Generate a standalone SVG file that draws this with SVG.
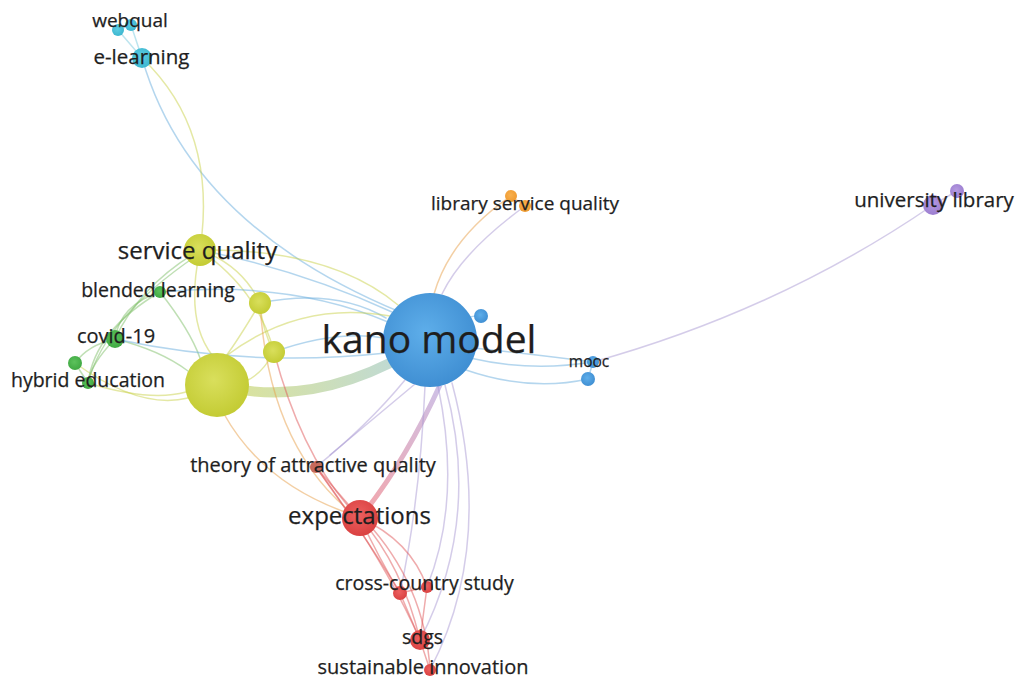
<svg xmlns="http://www.w3.org/2000/svg" width="1020" height="680" viewBox="0 0 1020 680">
  <style>
    .lbl { font-family: "Open Sans", "Liberation Sans", sans-serif; fill: #1e1e1e; stroke: #1e1e1e; stroke-width: 0.25; text-anchor: middle; }
    .s { font-size: 19.5px; }
    .m { font-size: 24px; }
    .e { fill: none; stroke-linecap: round; stroke-opacity: 0.5; stroke-width: 1.5; }
    .eb { stroke: #6aaede; }
    .ey { stroke: #c9d24a; }
    .eg { stroke: #7fbf6a; }
    .er { stroke: #e0585a; }
    .eo { stroke: #e8a04a; }
    .ev { stroke: #a99ad4; }
    .ec { stroke: #7ccbe0; }
    .n-blue { fill: url(#gBlue); }
    .n-yel { fill: url(#gYel); }
    .n-grn { fill: url(#gGrn); }
    .n-cyan { fill: url(#gCyan); }
    .n-org { fill: url(#gOrg); }
    .n-pur { fill: url(#gPur); }
    .n-red { fill: url(#gRed); }
    .n-brn { fill: #c66a5c; }
  </style>
  <defs>
    <radialGradient id="gBlue" cx="0.45" cy="0.42" r="0.6">
      <stop offset="0" stop-color="#5eaeea"/>
      <stop offset="1" stop-color="#3f8ed2"/>
    </radialGradient>
    <radialGradient id="gYel" cx="0.45" cy="0.42" r="0.6">
      <stop offset="0" stop-color="#d9df5c"/>
      <stop offset="1" stop-color="#c3cb33"/>
    </radialGradient>
    <radialGradient id="gGrn" cx="0.45" cy="0.42" r="0.6">
      <stop offset="0" stop-color="#5cc25c"/>
      <stop offset="1" stop-color="#3fa842"/>
    </radialGradient>
    <radialGradient id="gCyan" cx="0.45" cy="0.42" r="0.6">
      <stop offset="0" stop-color="#5dcde2"/>
      <stop offset="1" stop-color="#3cb6cf"/>
    </radialGradient>
    <radialGradient id="gOrg" cx="0.45" cy="0.42" r="0.6">
      <stop offset="0" stop-color="#f8b04e"/>
      <stop offset="1" stop-color="#ef9a30"/>
    </radialGradient>
    <radialGradient id="gPur" cx="0.45" cy="0.42" r="0.6">
      <stop offset="0" stop-color="#b59ae0"/>
      <stop offset="1" stop-color="#9b7dd0"/>
    </radialGradient>
    <radialGradient id="gRed" cx="0.45" cy="0.42" r="0.6">
      <stop offset="0" stop-color="#ec6060"/>
      <stop offset="1" stop-color="#d94040"/>
    </radialGradient>
    <linearGradient id="gThick" x1="217" y1="385" x2="430" y2="340" gradientUnits="userSpaceOnUse">
      <stop offset="0" stop-color="#cfd86a"/>
      <stop offset="1" stop-color="#9cc8d4"/>
    </linearGradient>
    <linearGradient id="gThick2" x1="360" y1="518" x2="440" y2="385" gradientUnits="userSpaceOnUse">
      <stop offset="0" stop-color="#ef7f86"/>
      <stop offset="1" stop-color="#b9a6dc"/>
    </linearGradient>
  </defs>

  <rect width="1020" height="680" fill="#ffffff"/>

  <!-- links between terms -->
  <g id="edges">
    <!-- strongest links -->
    <path d="M217,385 Q320,412 430,340" fill="none" stroke="url(#gThick)" stroke-width="10" stroke-opacity="0.7"/>
    <path d="M360,518 Q405,462 440,385" fill="none" stroke="url(#gThick2)" stroke-width="5" stroke-opacity="0.7"/>

    <!-- top cluster -->
    <path class="e ec" d="M118,30 L142,58"/>
    <path class="e ec" d="M131,25 L142,58"/>
    <path class="e ec" d="M118,30 L131,25"/>
    <path class="e eb" d="M142,58 Q190,225 400,312"/>
    <path class="e ey" d="M142,58 Q218,130 200,250"/>

    <!-- service quality cluster -->
    <path class="e ey" d="M200,250 Q330,248 398,305"/>
    <path class="e ey" d="M200,250 Q185,320 212,355"/>
    <path class="e ey" d="M200,250 Q242,265 260,303"/>
    <path class="e ey" d="M200,250 Q258,290 274,352"/>
    <path class="e ey" d="M260,303 Q262,330 274,352"/>
    <path class="e ey" d="M260,303 Q238,340 226,356"/>
    <path class="e ey" d="M274,352 Q262,374 246,381"/>
    <path class="e eg" d="M200,250 Q140,285 115,339"/>
    <path class="e eg" d="M196,256 Q105,318 88,383"/>
    <path class="e eg" d="M160,292 Q190,330 200,358"/>
    <path class="e eg" d="M115,339 Q160,350 188,371"/>
    <path class="e ey" d="M88,383 Q150,402 186,392"/>
    <path class="e ey" d="M75,363 Q140,410 188,398"/>
    <path class="e eg" d="M160,292 Q120,305 115,339"/>
    <path class="e eg" d="M115,339 Q88,345 75,363"/>
    <path class="e eg" d="M75,363 L88,383"/>
    <path class="e eg" d="M160,292 Q95,330 88,383"/>
    <path class="e eg" d="M115,339 Q90,365 88,383"/>

    <!-- links into kano model from the left -->
    <path class="e eb" d="M160,292 Q290,280 388,322"/>
    <path class="e eb" d="M115,339 Q250,368 386,353"/>
    <path class="e eb" d="M260,303 Q335,288 386,318"/>
    <path class="e eb" d="M274,352 Q335,330 384,338"/>
    <path class="e ey" d="M226,356 Q300,300 390,316"/>
    <path class="e eb" d="M200,250 Q300,270 392,312"/>

    <!-- library service quality -->
    <path class="e eo" d="M511,196 Q450,238 434,294"/>
    <path class="e ev" d="M525,206 Q462,252 442,294"/>
    <path class="e eo" d="M511,196 L525,206"/>

    <!-- mooc and university library -->
    <path class="e eb" d="M470,358 Q530,372 593,362"/>
    <path class="e eb" d="M466,370 Q530,392 588,379"/>
    <path class="e eb" d="M474,348 Q540,355 593,362"/>
    <path class="e eb" d="M593,362 L588,379"/>
    <path class="e ev" d="M593,362 Q780,310 933,205"/>
    <path class="e ev" d="M933,205 L957,191"/>
    <path class="e eb" d="M455,322 Q470,315 481,316"/>

    <!-- downward links from kano model -->
    <path class="e ev" d="M445,385 Q482,520 420,640"/>
    <path class="e ev" d="M452,383 Q495,545 430,670"/>
    <path class="e ev" d="M438,386 Q462,500 427,587"/>
    <path class="e ev" d="M425,386 Q420,500 400,593"/>
    <path class="e ev" d="M405,380 Q368,425 316,467"/>
    <path class="e ev" d="M415,384 Q360,430 330,455"/>

    <!-- expectations cluster -->
    <path class="e eo" d="M224,414 Q262,482 345,512"/>
    <path class="e er" d="M274,352 Q300,450 348,506"/>
    <path class="e eo" d="M260,303 Q268,440 346,508"/>
    <path class="e er" d="M316,467 L360,518"/>
    <path class="e er" d="M316,467 Q368,540 400,593"/>
    <path class="e er" d="M360,518 Q380,560 400,593"/>
    <path class="e er" d="M360,518 Q410,540 427,587"/>
    <path class="e er" d="M360,518 Q402,565 420,640"/>
    <path class="e er" d="M365,520 Q425,585 430,670"/>
    <path class="e er" d="M400,593 L420,640"/>
    <path class="e er" d="M427,587 L420,640"/>
    <path class="e er" d="M400,593 L427,587"/>
    <path class="e er" d="M420,640 L430,670"/>
    <path class="e er" d="M316,467 Q385,560 420,640"/>
  </g>

  <!-- terms -->
  <g id="node-kano-model">
    <circle class="n-blue" cx="430" cy="340" r="47"/>
    <text class="lbl" x="429" y="353" style="font-size:39px">kano model</text>
  </g>
  <g id="node-kano-small">
    <circle class="n-blue" cx="481" cy="316" r="7"/>
  </g>
  <g id="node-big-yellow">
    <circle class="n-yel" cx="217" cy="385" r="32"/>
  </g>
  <g id="node-yellow-a">
    <circle class="n-yel" cx="260" cy="303" r="11"/>
  </g>
  <g id="node-yellow-b">
    <circle class="n-yel" cx="274" cy="352" r="11"/>
  </g>
  <g id="node-service-quality">
    <circle class="n-yel" cx="200" cy="250" r="16"/>
    <text class="lbl m" x="197.5" y="259">service quality</text>
  </g>
  <g id="node-blended-learning">
    <circle class="n-grn" cx="160" cy="292" r="6"/>
    <text class="lbl s" x="158" y="297">blended learning</text>
  </g>
  <g id="node-covid-19">
    <circle class="n-grn" cx="115" cy="339" r="9"/>
    <text class="lbl" x="116" y="343" style="font-size:20px">covid-19</text>
  </g>
  <g id="node-hybrid-education">
    <circle class="n-grn" cx="75" cy="363" r="7"/>
    <circle class="n-grn" cx="88" cy="383" r="6"/>
    <text class="lbl s" x="88" y="387">hybrid education</text>
  </g>
  <g id="node-webqual">
    <circle class="n-cyan" cx="118" cy="30" r="6"/>
    <circle class="n-cyan" cx="131" cy="25" r="6"/>
    <text class="lbl" x="130" y="27" style="font-size:19px">webqual</text>
  </g>
  <g id="node-e-learning">
    <circle class="n-cyan" cx="142" cy="58" r="10"/>
    <text class="lbl" x="141.5" y="64" style="font-size:20.5px">e-learning</text>
  </g>
  <g id="node-library-service-quality">
    <circle class="n-org" cx="511" cy="196" r="6"/>
    <circle class="n-org" cx="525" cy="206" r="6"/>
    <text class="lbl" x="525" y="210" style="font-size:19px">library service quality</text>
  </g>
  <g id="node-university-library">
    <circle class="n-pur" cx="957" cy="191" r="7"/>
    <circle class="n-pur" cx="933" cy="205" r="10"/>
    <text class="lbl" x="934" y="207" style="font-size:20.5px">university library</text>
  </g>
  <g id="node-mooc">
    <circle class="n-blue" cx="593" cy="362" r="6"/>
    <circle class="n-blue" cx="588" cy="379" r="7"/>
    <text class="lbl" x="589" y="367" style="font-size:15.5px">mooc</text>
  </g>
  <g id="node-theory-of-attractive-quality">
    <circle class="n-brn" cx="316" cy="467" r="6"/>
    <text class="lbl" x="313" y="472" style="font-size:20px">theory of attractive quality</text>
  </g>
  <g id="node-expectations">
    <circle class="n-red" cx="360" cy="518" r="18"/>
    <text class="lbl m" x="359.5" y="524">expectations</text>
  </g>
  <g id="node-cross-country-study">
    <circle class="n-red" cx="400" cy="593" r="7"/>
    <circle class="n-red" cx="427" cy="587" r="6"/>
    <text class="lbl s" x="424.5" y="590">cross-country study</text>
  </g>
  <g id="node-sdgs">
    <circle class="n-red" cx="420" cy="640" r="10"/>
    <text class="lbl s" x="422.5" y="644">sdgs</text>
  </g>
  <g id="node-sustainable-innovation">
    <circle class="n-red" cx="430" cy="670" r="6"/>
    <text class="lbl" x="423" y="674" style="font-size:20px">sustainable innovation</text>
  </g>
</svg>
